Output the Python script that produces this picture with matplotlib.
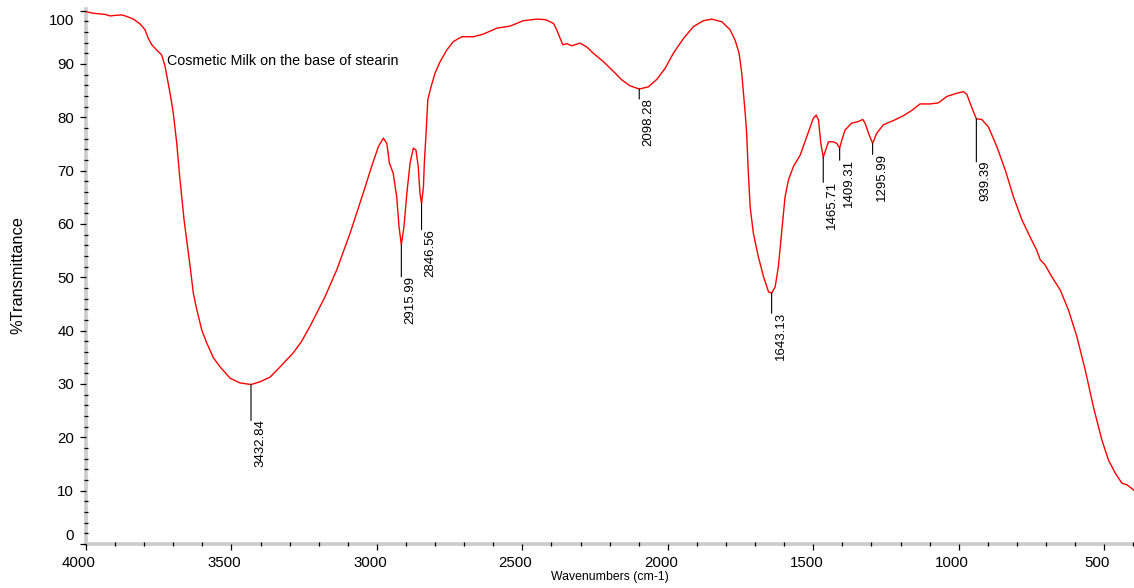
import numpy as np
import matplotlib
matplotlib.use("Agg")
import matplotlib.pyplot as plt
import matplotlib.transforms as mtransforms
from matplotlib import font_manager as fm
from matplotlib.ticker import MultipleLocator

# FTIR spectrum, wavenumber (cm-1) vs %T
wavenumber = [
    4000, 3975, 3935, 3917, 3900, 3877, 3860, 3837, 3814, 3797, 3786, 3774,
    3757, 3740, 3728, 3711, 3700, 3688, 3679, 3671, 3663, 3654, 3642, 3631,
    3619, 3602, 3585, 3562, 3539, 3505, 3471, 3432.84, 3402, 3367, 3333, 3288,
    3260, 3230, 3178, 3138, 3092, 3047, 3018, 2995, 2978, 2966, 2957, 2944, 2932,
    2924, 2915.99, 2907, 2897, 2886, 2875, 2866, 2858, 2852, 2846.56, 2840,
    2837, 2831, 2825, 2814, 2800, 2783, 2760, 2737, 2708, 2668, 2634, 2588,
    2542, 2497, 2451, 2420, 2393, 2382, 2361, 2347, 2330, 2302, 2279, 2256,
    2221, 2187, 2158, 2130, 2098.28, 2067, 2038, 2009, 1981, 1946, 1912, 1878,
    1849, 1814, 1786, 1769, 1755, 1746, 1740, 1734, 1729, 1724, 1717, 1706,
    1689, 1671, 1654, 1643.13, 1631, 1620, 1608, 1597, 1585, 1568, 1545, 1522,
    1500, 1490, 1482, 1474, 1465.71, 1459, 1448, 1431, 1419, 1409.31, 1402,
    1391, 1368, 1345, 1330, 1322, 1310, 1295.99, 1282, 1259, 1224, 1190, 1161,
    1133, 1098, 1070, 1041, 1007, 984, 972, 955, 939.39, 921, 898, 869, 840,
    812, 783, 755, 732, 720, 703, 680, 651, 623, 594, 565, 537, 508, 485, 462,
    439, 422, 405, 399,
]
transmittance = [
    99.8, 99.5, 99.3, 99.0, 99.1, 99.2, 98.9, 98.4, 97.5, 96.4, 94.8, 93.6,
    92.6, 91.7, 89.5, 84.5, 80.8, 75.1, 69.5, 65.1, 60.8, 57.0, 52.0, 47.0,
    43.9, 40.1, 37.7, 34.9, 33.2, 31.1, 30.2, 29.9, 30.4, 31.3, 33.2, 35.8,
    37.9, 40.8, 46.4, 51.4, 58.3, 65.8, 70.8, 74.5, 76.1, 75.1, 71.4, 69.5, 65.1,
    59.5, 56.1, 59.5, 65.8, 71.4, 74.2, 73.9, 70.8, 65.8, 63.8, 67.0,
    71.4, 77.0, 83.3, 85.7, 88.3, 90.4, 92.6, 94.2, 95.1, 95.1, 95.6, 96.7,
    97.1, 98.1, 98.4, 98.3, 97.6, 96.4, 93.6, 93.8, 93.4, 93.9, 93.2, 92.0,
    90.4, 88.6, 87.0, 85.9, 85.3, 85.7, 87.1, 89.2, 92.0, 94.8, 97.0, 98.1,
    98.4, 97.9, 96.4, 94.5, 92.0, 88.3, 84.5, 80.8, 77.0, 70.5, 63.2, 58.3,
    53.9, 50.1, 47.3, 47.0, 48.2, 52.0, 58.9, 65.1, 68.3, 70.8, 72.9, 76.4,
    79.8, 80.4, 79.5, 75.1, 72.5, 73.6, 75.4, 75.4, 75.1, 74.2, 75.7,
    77.6, 78.9, 79.2, 79.6, 78.9, 77.0, 75.1, 77.0, 78.6, 79.4, 80.3, 81.3,
    82.5, 82.5, 82.7, 83.9, 84.5, 84.8, 84.3, 81.8, 79.7, 79.6, 78.2, 74.5, 70.1,
    65.1, 60.8, 57.6, 55.1, 53.3, 52.3, 50.1, 47.6, 43.9, 38.9, 32.6, 25.7, 19.5,
    15.7, 13.3, 11.4, 11.1, 10.4, 10.1,
]

# labelled peaks and how far (px) each stem drops below the curve
peaks = [3432.84, 2915.99, 2846.56, 2098.28, 1643.13, 1465.71, 1409.31, 1295.99, 939.39]
stem_px = [36, 32, 26, 10, 20, 25, 12, 11, 43]

title = "Cosmetic Milk on the base of stearin"

names = {f.name for f in fm.fontManager.ttflist}
if "Liberation Sans Narrow" in names:
    narrow, peak_size, xlab_size, ylab_size = "Liberation Sans Narrow", 11.0, 10.5, 14.0
else:
    narrow, peak_size, xlab_size, ylab_size = "Liberation Sans", 9.5, 8.8, 11.8
plt.rcParams["font.family"] = ["Liberation Sans", "DejaVu Sans"]

fig = plt.figure(figsize=(11.34, 5.88), dpi=100)
ax = fig.add_axes([86 / 1134, 44 / 588, 1 - 86 / 1134, 535 / 588])

ax.plot(wavenumber, transmittance, color="#ff0000", lw=1.0, zorder=3)
ax.set_xlim(4000, 397.5)
ax.set_ylim(0, 100.3)

wn = np.array(wavenumber)[::-1]
tr = np.array(transmittance)[::-1]
for p, drop in zip(peaks, stem_px):
    t = np.interp(p, wn, tr)
    ax.annotate("", xy=(p, t), xytext=(0, -drop), textcoords="offset pixels",
                arrowprops=dict(arrowstyle="-", color="black", lw=0.8,
                                shrinkA=0, shrinkB=0))
    ax.annotate(f"{p:.2f}", xy=(p, t), xytext=(3, -drop + 1),
                textcoords="offset pixels", rotation=90, ha="left", va="top",
                fontsize=peak_size, family=[narrow, "Liberation Sans"])

ax.text(3722, 89.8, title, fontsize=10.3, ha="left", va="baseline")

# axes styling: thick grey axis lines, black ticks
for side in ("top", "right"):
    ax.spines[side].set_visible(False)
for side in ("left", "bottom"):
    ax.spines[side].set_color("#cccccc")
    ax.spines[side].set_linewidth(2.6)
    ax.spines[side].set_zorder(1)
ax.set_axisbelow(False)

ax.xaxis.set_major_locator(MultipleLocator(500))
ax.xaxis.set_minor_locator(MultipleLocator(100))
ax.yaxis.set_major_locator(MultipleLocator(10))
ax.yaxis.set_minor_locator(MultipleLocator(2))
ax.tick_params(which="major", direction="out", length=4.5, width=0.9,
               color="black", labelsize=10.8, pad=4)
ax.tick_params(which="minor", direction="inout", length=2.5, width=0.9,
               color="black")
ax.set_xticks(np.arange(4000, 399, -500))
ax.set_yticks(np.arange(0, 101, 10))

dpi_tr = fig.dpi_scale_trans
for lab in ax.get_xticklabels():
    lab.set_transform(lab.get_transform()
                      + mtransforms.ScaledTranslation(-7 / 100, 0, dpi_tr))
ylabs = ax.get_yticklabels()
ylabs[0].set_transform(ylabs[0].get_transform()
                       + mtransforms.ScaledTranslation(0, 9 / 100, dpi_tr))
ylabs[-1].set_transform(ylabs[-1].get_transform()
                        + mtransforms.ScaledTranslation(0, -9 / 100, dpi_tr))

ax.set_xlabel("Wavenumbers (cm-1)", fontsize=xlab_size,
              family=[narrow, "Liberation Sans"], va="center")
ax.xaxis.set_label_coords(0.5, -0.0617)
ax.set_ylabel("%Transmittance", fontsize=ylab_size,
              family=[narrow, "Liberation Sans"], va="center")
ax.yaxis.set_label_coords(-0.0649, 0.503)

fig.savefig("out.png", dpi=100)
